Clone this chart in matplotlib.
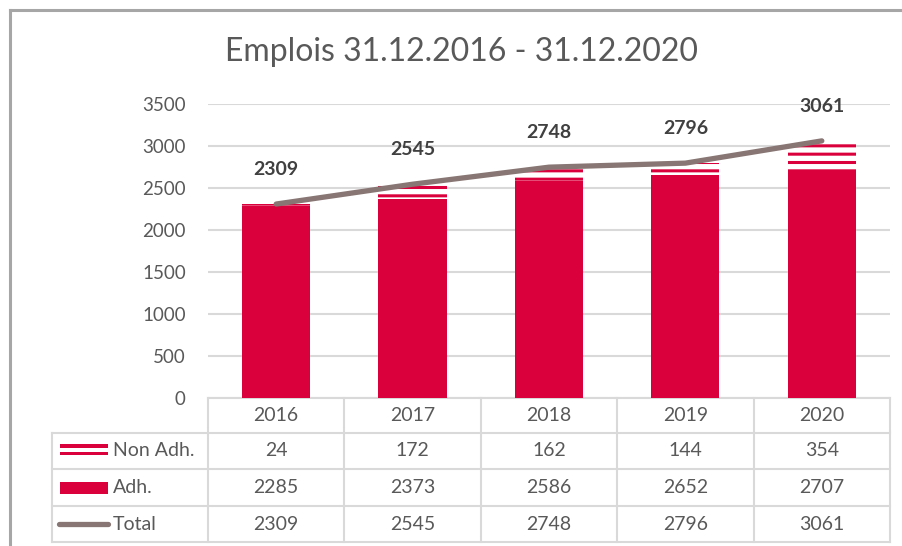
import numpy as np
import matplotlib
matplotlib.use("Agg")
import matplotlib.pyplot as plt
from matplotlib.patches import Rectangle

plt.rcParams['font.family'] = ['Lato', 'DejaVu Sans']
plt.rcParams['hatch.linewidth'] = 2.2

# data
years = ['2016', '2017', '2018', '2019', '2020']
non_adh = [24, 172, 162, 144, 354]
adh = [2285, 2373, 2586, 2652, 2707]
total = [2309, 2545, 2748, 2796, 3061]
row_names = ['Non Adh.', 'Adh.', 'Total']

RED = '#DA003C'
LINE = '#877673'
TXT = '#595959'
GRID = '#D9D9D9'

W, H = 903, 546
fig = plt.figure(figsize=(W / 100, H / 100), dpi=100)

# background axes in pixel coords for frame and table
bg = fig.add_axes([0, 0, 1, 1], zorder=0)
bg.set_xlim(0, W)
bg.set_ylim(H, 0)
bg.axis('off')

# outer frame (left and top only visible)
bg.plot([10, 10], [H, 10], color='#A6A6A6', lw=2.2, solid_capstyle='projecting')
bg.plot([10, W], [10, 10], color='#A6A6A6', lw=2.2, solid_capstyle='projecting')

# main chart
x = np.arange(len(years))
ax = fig.add_axes([208 / W, (H - 398) / H, 682 / W, 294 / H], zorder=2)
ax.patch.set_alpha(0)
ax.bar(x, adh, width=0.5, color=RED, zorder=2)
ax.bar(x, non_adh, width=0.5, bottom=adh, facecolor='white', edgecolor=RED,
       hatch='--', linewidth=0, zorder=2)
ax.plot(x, total, color=LINE, lw=3.8, solid_capstyle='round', zorder=3)
for xi, t in zip(x, total):
    ax.annotate(str(t), (xi, t), xytext=(0, 25), textcoords='offset points',
                ha='center', va='center', fontsize=14, fontweight='bold',
                color='#404040')

ax.set_xlim(-0.5, len(years) - 0.5)
ax.set_ylim(0, 3500)
ax.set_yticks(np.arange(0, 3501, 500))
ax.yaxis.grid(True, color=GRID, lw=1.5, zorder=0)
ax.set_axisbelow(True)
ax.tick_params(axis='y', length=0, labelsize=13.5, labelcolor=TXT, pad=16)
ax.set_xticks([])
for s in ax.spines.values():
    s.set_visible(False)

fig.text(462 / W, 1 - 52 / H, 'Emplois 31.12.2016 - 31.12.2020',
         ha='center', va='center', fontsize=23, color=TXT)

# data table
col_edges = [208 + 136.4 * i for i in range(len(years) + 1)]
row_edges = [398, 433, 469, 506, 542]
tl = dict(color=GRID, lw=1.5)
# horizontal lines
bg.plot([col_edges[0], col_edges[-1]], [row_edges[0]] * 2, **tl)
for yv in row_edges[1:]:
    bg.plot([52, col_edges[-1]], [yv, yv], **tl)
# vertical lines
bg.plot([52, 52], [row_edges[1], row_edges[-1]], **tl)
for xv in col_edges:
    bg.plot([xv, xv], [row_edges[0], row_edges[-1]], **tl)

rows = [non_adh, adh, total]
for j, yr in enumerate(years):
    cx = (col_edges[j] + col_edges[j + 1]) / 2
    bg.text(cx, (row_edges[0] + row_edges[1]) / 2, yr, ha='center', va='center',
            fontsize=14, color=TXT)
    for i, vals in enumerate(rows):
        cy = (row_edges[i + 1] + row_edges[i + 2]) / 2
        bg.text(cx, cy, str(vals[j]), ha='center', va='center',
                fontsize=14, color=TXT)

# legend keys inside table
for i, name in enumerate(row_names):
    cy = (row_edges[i + 1] + row_edges[i + 2]) / 2
    bg.text(113, cy, name, ha='left', va='center', fontsize=14, color=TXT)
bcy = (row_edges[1] + row_edges[2]) / 2
bg.add_patch(Rectangle((60, bcy - 7), 48, 3.5, color=RED, lw=0))
bg.add_patch(Rectangle((60, bcy + 0.5), 48, 3.5, color=RED, lw=0))
bcy = (row_edges[2] + row_edges[3]) / 2
bg.add_patch(Rectangle((60, bcy - 6), 48, 12, color=RED, lw=0))
bcy = (row_edges[3] + row_edges[4]) / 2
bg.plot([59, 108], [bcy, bcy], color=LINE, lw=3.8, solid_capstyle='round')

fig.savefig('out.png', dpi=100)
